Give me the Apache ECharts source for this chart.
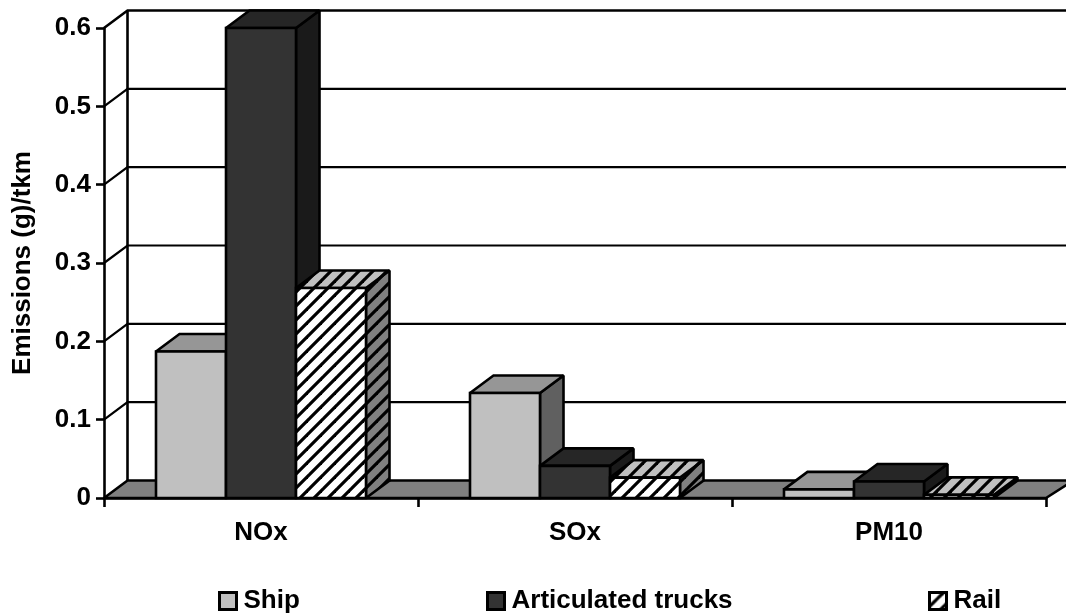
<!DOCTYPE html>
<html>
<head>
<meta charset="utf-8">
<style>html,body{margin:0;padding:0;background:#fff}#c{width:1066px;height:614px}</style>
<script src="https://cdn.jsdelivr.net/npm/echarts@6/dist/echarts.min.js"></script>
</head>
<body>
<div id="c"></div>
<script>
const categories = ['NOx', 'SOx', 'PM10'];
const yTicks = [0, 0.1, 0.2, 0.3, 0.4, 0.5, 0.6];
const ship = [0.187, 0.134, 0.011];
const trucks = [0.6, 0.041, 0.021];
const rail = [0.268, 0.026, 0.004];
const seriesNames = ['Ship', 'Articulated trucks', 'Rail'];

const DX = 23.5, DY = -17.5, BAR_FRAC = 70 / 314;
const FONT = '"Liberation Sans", Arial, sans-serif';

function hatch(bg) {
  const s = 14, c = document.createElement('canvas');
  c.width = c.height = s;
  const g = c.getContext('2d');
  g.fillStyle = bg; g.fillRect(0, 0, s, s);
  g.strokeStyle = '#000'; g.lineWidth = 3.2;
  [[-s, s, s, -s], [0, s, s, 0], [0, 2 * s, 2 * s, 0]].forEach(l => {
    g.beginPath(); g.moveTo(l[0], l[1]); g.lineTo(l[2], l[3]); g.stroke();
  });
  return { image: c, repeat: 'repeat' };
}
const faces = [
  { front: '#c0c0c0', top: '#969696', side: '#606060' },
  { front: '#333333', top: '#262626', side: '#1a1a1a' },
  { front: hatch('#ffffff'), top: hatch('#c0c0c0'), side: hatch('#808080') }
];
const edge = { stroke: '#000', lineWidth: 2.6, lineJoin: 'miter', miterLimit: 2 };
const frame = { stroke: '#000', lineWidth: 2.6, lineJoin: 'miter', miterLimit: 2 };
const gridLine = { stroke: '#000', lineWidth: 2.2, lineJoin: 'miter', miterLimit: 2 };

function barSeries(name, values, idx) {
  return {
    type: 'custom', name, z: 5 + idx, clip: false,
    data: values.map((v, i) => [i, v]),
    itemStyle: { color: faces[idx].front, borderColor: '#000', borderWidth: 2 },
    renderItem(params, api) {
      const base = api.coord([api.value(0), 0]);
      const top = api.coord([api.value(0), api.value(1)]);
      const band = api.size([1, 0])[0], w = band * BAR_FRAC;
      const x0 = base[0] + (idx - 1.5) * w, x1 = x0 + w;
      const y0 = base[1], y1 = top[1], f = faces[idx];
      return {
        type: 'group',
        children: [
          { type: 'polygon', shape: { points: [[x1, y0], [x1 + DX, y0 + DY], [x1 + DX, y1 + DY], [x1, y1]] }, style: Object.assign({ fill: f.side }, edge) },
          { type: 'polygon', shape: { points: [[x0, y1], [x0 + DX, y1 + DY], [x1 + DX, y1 + DY], [x1, y1]] }, style: Object.assign({ fill: f.top }, edge) },
          { type: 'polygon', shape: { points: [[x0, y0], [x1, y0], [x1, y1], [x0, y1]] }, style: Object.assign({ fill: f.front }, edge) }
        ]
      };
    }
  };
}

const wall = {
  type: 'custom', name: 'wall', z: 1, clip: false, silent: true,
  data: yTicks.map(t => [0, t]),
  renderItem(params, api) {
    const cs = params.coordSys, t = api.value(1);
    const y = api.coord([0, t])[1];
    const xl = cs.x, xr = cs.x + cs.width + DX + 4;
    const children = [];
    if (t === 0) {
      children.push({ type: 'polygon', shape: { points: [[xl, y], [xl + DX, y + DY], [xr, y + DY], [xr - DX - 4 , y]] }, style: Object.assign({ fill: '#808080' }, frame) });
      children.push({ type: 'line', shape: { x1: xl + DX, y1: y + DY, x2: xl + DX, y2: cs.y + DY }, style: Object.assign({ fill: null }, frame) });
    } else {
      children.push({ type: 'polyline', shape: { points: [[xl, y], [xl + DX, y + DY], [xr, y + DY]] }, style: Object.assign({ fill: null }, t === 0.6 ? frame : gridLine) });
    }
    return { type: 'group', children };
  }
};

const legendLeft = [213, 481, 923];
const chart = echarts.init(document.getElementById('c'), null, { renderer: 'canvas' });
chart.setOption({
  animation: false,
  backgroundColor: '#fff',
  grid: { left: 104, right: 20, top: 28, bottom: 116, outerBoundsMode: 'none', containLabel: false },
  xAxis: {
    type: 'category', data: categories, z: 10,
    axisLine: { lineStyle: { color: '#000', width: 2.6 } },
    axisTick: { show: true, interval: 0, length: 9, lineStyle: { color: '#000', width: 2.6 } },
    axisLabel: { color: '#000', fontFamily: FONT, fontWeight: 'bold', fontSize: 26, margin: 22, interval: 0 }
  },
  yAxis: {
    type: 'value', min: 0, max: 0.6, interval: 0.1,
    name: 'Emissions (g)/tkm', nameLocation: 'middle', nameGap: 68,
    nameTextStyle: { color: '#000', fontFamily: FONT, fontWeight: 'bold', fontSize: 26 },
    splitLine: { show: false }, z: 10,
    axisLine: { show: true, lineStyle: { color: '#000', width: 2.6 } },
    axisTick: { show: true, length: 8, lineStyle: { color: '#000', width: 2.6 } },
    axisLabel: { color: '#000', fontFamily: FONT, fontWeight: 'bold', fontSize: 26, margin: 13,
      formatter: v => String(v) }
  },
  legend: seriesNames.map((n, i) => ({
    left: legendLeft[i], top: 583, itemWidth: 17, itemHeight: 17, selectedMode: false,
    textStyle: { color: '#000', fontFamily: FONT, fontWeight: 'bold', fontSize: 26, padding: [0, 0, 0, 2] },
    data: [{ name: n, icon: 'rect', itemStyle: { color: faces[i].front, borderColor: '#000', borderWidth: 3 } }]
  })),
  series: [wall, barSeries(seriesNames[0], ship, 0), barSeries(seriesNames[1], trucks, 1), barSeries(seriesNames[2], rail, 2)]
});
</script>
</body>
</html>
